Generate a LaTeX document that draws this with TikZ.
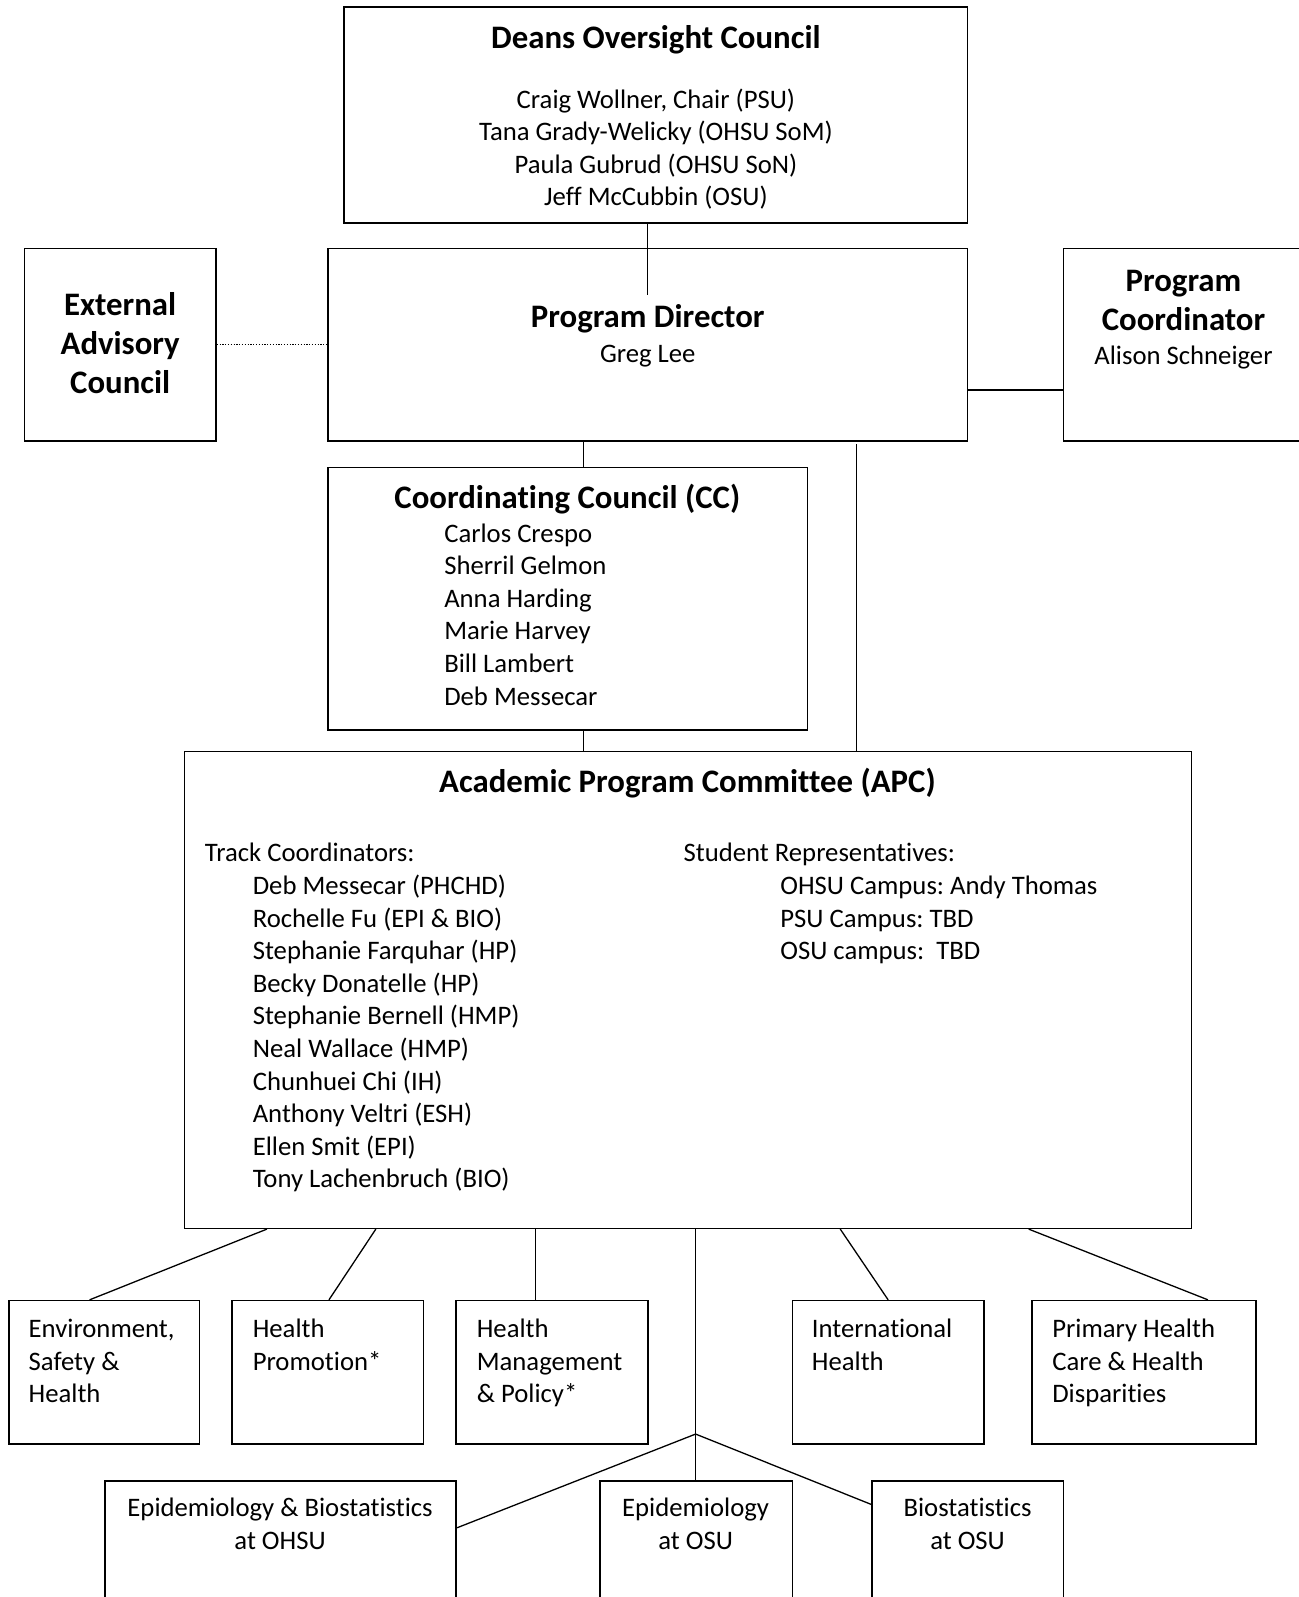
\documentclass[tikz,border=0pt]{standalone}
\usepackage{fontspec}
\setmainfont{Carlito}[Ligatures={NoCommon,NoContextual}, Contextuals=NoAlternate]
\usetikzlibrary{fit,calc}
\newcommand{\bs}{\rule{0pt}{24.4pt}}
\newcommand{\bt}{\rule{0pt}{30.5pt}}
\frenchspacing
\begin{document}
\begin{tikzpicture}[x=1.0185pt,y=-1.0185pt,
  box/.style={draw, line width=1.6pt, inner sep=0pt},
  link/.style={line width=1.3pt},
  dotlink/.style={line width=1pt, dash pattern=on 1.2pt off 1.6pt},
  body/.style={font=\fontsize{26.7pt}{32.6pt}\selectfont, inner sep=0pt},
  title/.style={font=\fontsize{32.8pt}{38.7pt}\selectfont\bfseries, inner sep=0pt}]
\useasboundingbox (0,0) rectangle (1274.5,1568);
% boxes
\node[box, fit={(338,7)(950,219)}] (deans) {};
\node[box, fit={(24,244)(212,433)}] (ext) {};
\node[box, fit={(322,244)(950,433)}] (pd) {};
\node[box, fit={(1044,244)(1290,433)}] (pc) {};
\node[box, fit={(322,459)(793,717)}] (cc) {};
\node[box, fit={(181,738)(1170,1206)}] (apc) {};
\node[box, fit={(9,1277)(196,1418)}] (env) {};
\node[box, fit={(228,1277)(416,1418)}] (hp) {};
\node[box, fit={(448,1277)(636,1418)}] (hmp) {};
\node[box, fit={(778,1277)(966,1418)}] (ih) {};
\node[box, fit={(1013,1277)(1233,1418)}] (phc) {};
\node[box, fit={(103,1454)(448,1600)}] (eb) {};
\node[box, fit={(589,1454)(778,1600)}] (eo) {};
\node[box, fit={(856,1454)(1044,1600)}] (bo) {};
% texts
\node[title, anchor=base] (deansT) at (644,48) {Deans Oversight Council};
\node[body, anchor=north, align=center] (deansM) at (644,82) {\bs Craig Wollner, Chair (PSU)\\Tana Grady-Welicky (OHSU SoM)\\Paula Gubrud (OHSU SoN)\\Jeff McCubbin (OSU)};
\node[title, anchor=north, align=center] (extT) at (118,280) {\bt External\\Advisory\\Council};
\node[title, anchor=base] (pdT) at (636,322) {Program Director};
\node[body, anchor=base] (pdN) at (636,356) {Greg Lee};
\node[title, anchor=north, align=center] (pcT) at (1162,256) {\bt Program\\Coordinator};
\node[body, anchor=base] (pcN) at (1162,358) {Alison Schneiger};
\node[title, anchor=base] (ccT) at (557,499) {Coordinating Council (CC)};
\node[body, anchor=north west, align=left] (ccM) at (436,508) {\bs Carlos Crespo\\Sherril Gelmon\\Anna Harding\\Marie Harvey\\Bill Lambert\\Deb Messecar};
\node[title, anchor=base] (apcT) at (675,778) {Academic Program Committee (APC)};
\node[body, anchor=base west] (tcH) at (201,846) {Track Coordinators:};
\node[body, anchor=north west, align=left] (tcM) at (248,854) {\bs Deb Messecar (PHCHD)\\Rochelle Fu (EPI \& BIO)\\Stephanie Farquhar (HP)\\Becky Donatelle (HP)\\Stephanie Bernell (HMP)\\Neal Wallace (HMP)\\Chunhuei Chi (IH)\\Anthony Veltri (ESH)\\Ellen Smit (EPI)\\Tony Lachenbruch (BIO)};
\node[body, anchor=base west] (srH) at (671,846) {Student Representatives:};
\node[body, anchor=north west, align=left] (srM) at (766,854) {\bs OHSU Campus: Andy Thomas\\PSU Campus: TBD\\OSU campus:\ \ TBD};
\node[body, anchor=north west, align=left] (envT) at (28,1289) {\bs Environment,\\Safety \&\\Health};
\node[body, anchor=north west, align=left] (hpT) at (248,1289) {\bs Health\\Promotion*};
\node[body, anchor=north west, align=left] (hmpT) at (468,1289) {\bs Health\\Management\\\& Policy*};
\node[body, anchor=north west, align=left] (ihT) at (797,1289) {\bs International\\Health};
\node[body, anchor=north west, align=left] (phcT) at (1033,1289) {\bs Primary Health\\Care \& Health\\Disparities};
\node[body, anchor=north, align=center] (ebT) at (275,1465) {\bs Epidemiology \& Biostatistics\\at OHSU};
\node[body, anchor=north, align=center] (eoT) at (683,1465) {\bs Epidemiology\\at OSU};
\node[body, anchor=north, align=center] (boT) at (950,1465) {\bs Biostatistics\\at OSU};
% connectors
\coordinate (pdin) at (636,290);
\draw[link] (pdin |- deans.south) -- (pdin);
\draw[dotlink] (ext.east) -- (ext.east -| pd.west);
\coordinate (pcy) at (1000,383);
\draw[link] (pd.east |- pcy) -- (pc.west |- pcy);
\coordinate (ccx) at (573,0);
\draw[link] (ccx |- pd.south) -- (ccx |- cc.north);
\draw[link] (ccx |- cc.south) -- (ccx |- apc.north);
\coordinate (side) at (841,436);
\draw[link] (side) -- (side |- apc.north);
\coordinate (a1) at (262,0); \coordinate (t1) at (88,0);
\coordinate (a2) at (369,0); \coordinate (t2) at (323,0);
\coordinate (a3) at (526,0); \coordinate (t3) at (526,0);
\coordinate (a4) at (683,0);
\coordinate (a5) at (825,0); \coordinate (t5) at (872,0);
\coordinate (a6) at (1010,0); \coordinate (t6) at (1186,0);
\draw[link] (a1 |- apc.south) -- (t1 |- env.north);
\draw[link] (a2 |- apc.south) -- (t2 |- hp.north);
\draw[link] (a3 |- apc.south) -- (t3 |- hmp.north);
\draw[link] (a5 |- apc.south) -- (t5 |- ih.north);
\draw[link] (a6 |- apc.south) -- (t6 |- phc.north);
\coordinate (jn) at (683,1408);
\draw[link] (a4 |- apc.south) -- (jn);
\draw[link] (jn) -- (jn |- eo.north);
\coordinate (ebhit) at (0,1500);
\coordinate (bohit) at (0,1477);
\draw[link] (jn) -- (eb.east |- ebhit);
\draw[link] (jn) -- (bo.west |- bohit);
\end{tikzpicture}
\end{document}
